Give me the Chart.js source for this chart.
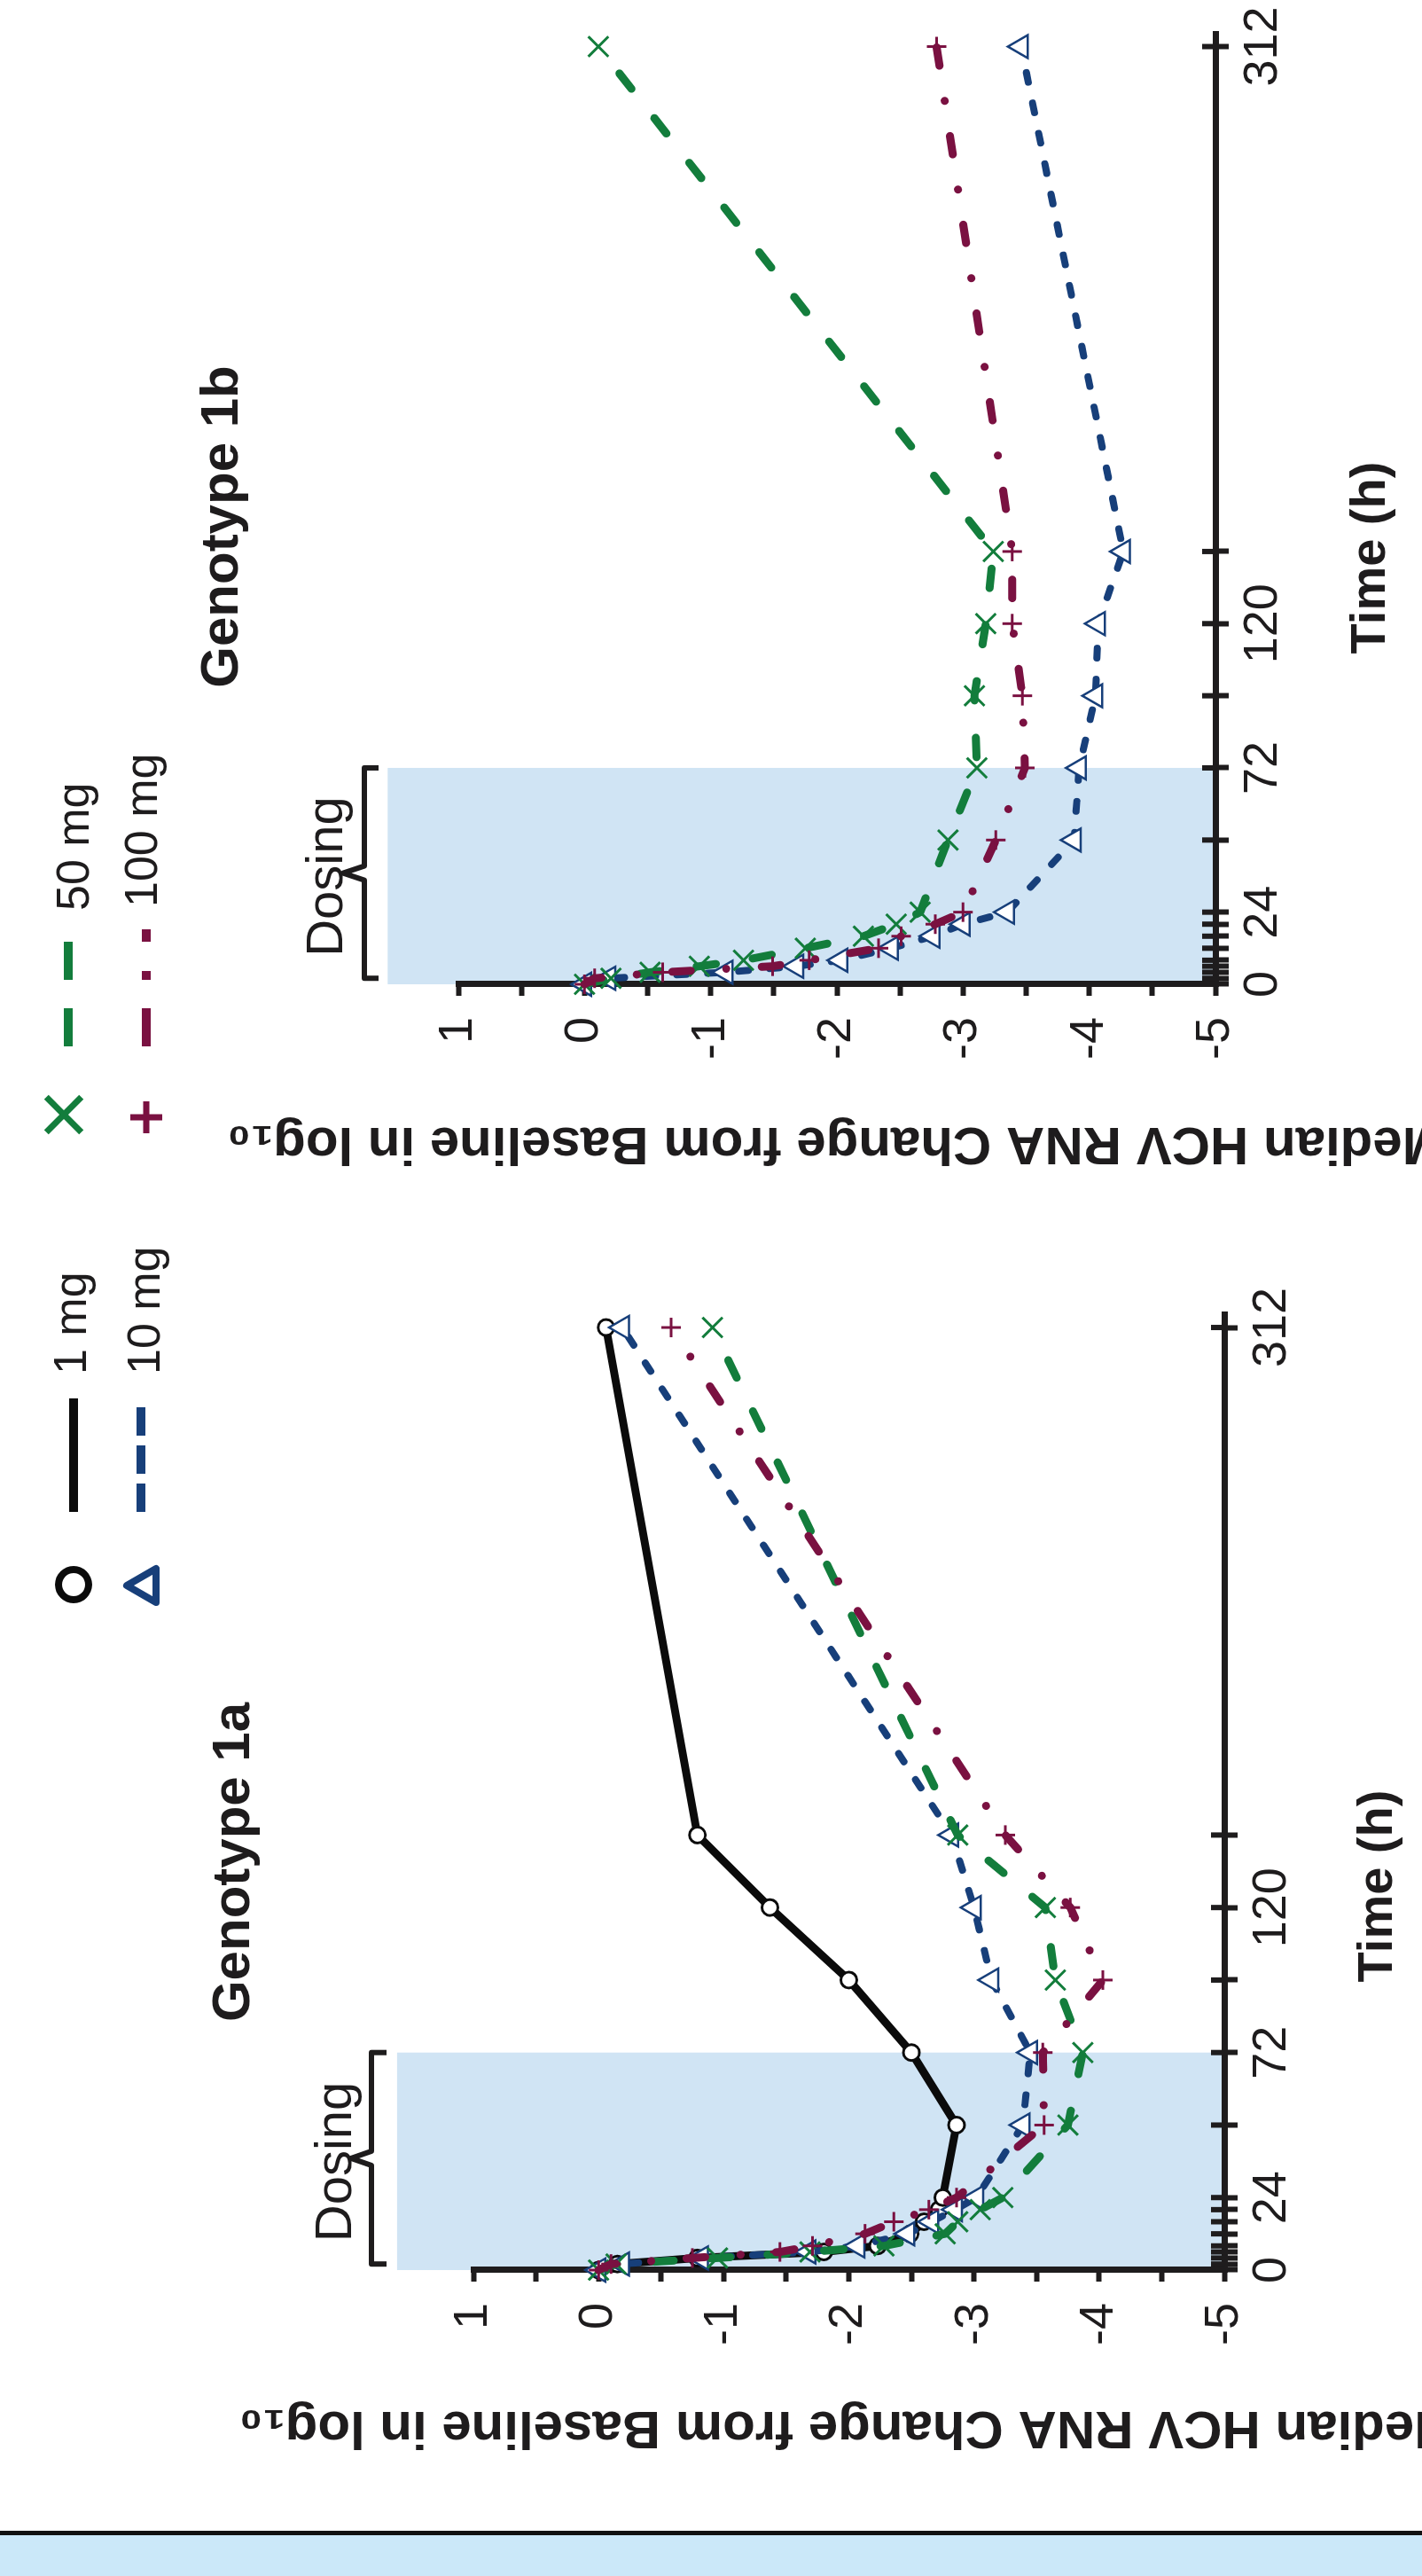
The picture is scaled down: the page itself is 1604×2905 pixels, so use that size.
<!DOCTYPE html>
<html>
<head>
<meta charset="utf-8">
<script src="https://cdn.jsdelivr.net/npm/chart.js@4.4.1/dist/chart.umd.min.js"></script>
<style>
html, body { margin: 0; padding: 0; background: #fff; overflow: hidden; }
body { width: 1604px; height: 2905px; position: relative; }
/* the figure is laid out upright and turned a quarter turn, like the scanned page */
#figure { position: absolute; left: 0; top: 0; width: 2905px; height: 1604px;
          transform-origin: 0 0; transform: translate(0, 2905px) rotate(-90deg); }
#strip { position: absolute; left: 0; top: 0; width: 46px; height: 1604px;
         background: #cbe8f9; border-right: 5px solid #111; }
.panel { position: absolute; top: 0; }
</style>
</head>
<body>
<div id="figure">
  <div id="strip"></div>
  <canvas id="chart1b" class="panel" width="1455" height="1604" style="left:1450px"></canvas>
  <canvas id="chart1a" class="panel" width="1560" height="1604" style="left:0"></canvas>
</div>
<script>
// sampling times (h) and the labelled ones
const hours = [0, 2, 4, 6, 8, 12, 16, 20, 24, 48, 72, 96, 120, 144, 312];
const hourLabels = [0, 24, 72, 120, 312];
const valueTicks = [-5, -4.5, -4, -3.5, -3, -2.5, -2, -1.5, -1, -0.5, 0, 0.5, 1];
const dosingHours = [0, 72];

// Genotype 1a, median change in log10 HCV RNA
const g1a_1mg   = [0, -0.15, -0.79, -1.80, -2.23, -2.49, -2.60, -2.72, -2.75, -2.86, -2.50, -2.00, -1.37, -0.79, -0.06];
const g1a_10mg  = [0, -0.19, -0.82, -1.68, -2.07, -2.47, -2.66, -2.85, -3.02, -3.39, -3.45, -3.14, -3.00, -2.82, -0.19];
const g1a_50mg  = [0, -0.14, -0.95, -1.69, -2.28, -2.77, -2.87, -3.05, -3.23, -3.75, -3.87, -3.65, -3.57, -2.87, -0.91];
const g1a_100mg = [0, -0.10, -0.75, -1.45, -1.71, -2.13, -2.36, -2.64, -2.86, -3.56, -3.55, -4.03, -3.77, -3.25, -0.58];

// Genotype 1b
const g1b_10mg  = [0, -0.19, -1.12, -1.68, -2.03, -2.43, -2.76, -3.00, -3.35, -3.88, -3.92, -4.05, -4.07, -4.27, -3.46];
const g1b_50mg  = [0, -0.21, -0.52, -0.91, -1.26, -1.75, -2.21, -2.47, -2.66, -2.88, -3.11, -3.09, -3.18, -3.24, -0.11];
const g1b_100mg = [0, -0.08, -0.62, -1.49, -1.78, -2.33, -2.51, -2.78, -3.00, -3.26, -3.49, -3.47, -3.39, -3.39, -2.79];

const ink = '#1e1c1d';
const family = '"Liberation Sans", Arial, Helvetica, sans-serif';
const yTitle = 'Median HCV RNA Change from Baseline in log\u2081\u2080';

const styles = {
  '1 mg':   { color: '#0b0b0b', shape: 'circle',   r: 9,  pw: 3,   lw: 9, dash: [],               legendDash: [] },
  '10 mg':  { color: '#173f7a', shape: 'triangle', r: 15, pw: 2.5, lw: 8, dash: [11, 24],         legendDash: [32, 11] },
  '50 mg':  { color: '#137d3c', shape: 'crossRot', r: 16, pw: 3,   lw: 9, dash: [22, 42],         legendDash: [43, 32] },
  '100 mg': { color: '#7a1141', shape: 'cross',    r: 11, pw: 3,   lw: 9, dash: [21, 40, 0.1, 40], legendDash: [43, 32, 10, 33] }
};

function series(label, values) {
  const s = styles[label];
  return {
    label: label,
    data: hours.map((h, i) => ({ x: h, y: values[i] })),
    borderColor: s.color,
    borderWidth: s.lw,
    borderDash: s.dash,
    borderCapStyle: 'round',
    borderJoinStyle: 'round',
    tension: 0,
    fill: false,
    clip: false,
    pointStyle: s.shape,
    pointRadius: s.r,
    pointBorderWidth: s.pw,
    pointBorderColor: s.color,
    pointBackgroundColor: '#ffffff'
  };
}

function drawMarker(ctx, shape, x, y, r, color, lw) {
  ctx.save();
  ctx.strokeStyle = color;
  ctx.fillStyle = '#ffffff';
  ctx.lineWidth = lw;
  ctx.lineJoin = 'round';
  ctx.beginPath();
  if (shape === 'circle') {
    ctx.arc(x, y, r, 0, Math.PI * 2);
    ctx.fill();
  } else if (shape === 'triangle') {
    ctx.moveTo(x, y - r);
    ctx.lineTo(x + r * 0.866, y + r * 0.5);
    ctx.lineTo(x - r * 0.866, y + r * 0.5);
    ctx.closePath();
    ctx.fill();
  } else if (shape === 'cross') {
    ctx.moveTo(x, y - r); ctx.lineTo(x, y + r);
    ctx.moveTo(x - r, y); ctx.lineTo(x + r, y);
  } else {
    const d = r * 0.7071;
    ctx.moveTo(x - d, y - d); ctx.lineTo(x + d, y + d);
    ctx.moveTo(x + d, y - d); ctx.lineTo(x - d, y + d);
  }
  ctx.stroke();
  ctx.restore();
}

function makeDecor(L) {
  return {
    id: 'decor',
    beforeDraw(chart) {
      const { ctx, scales: { x, y } } = chart;
      const x0 = x.getPixelForValue(dosingHours[0]);
      const x1 = x.getPixelForValue(dosingHours[1]);
      const y0 = y.getPixelForValue(L.bandTop);
      const y1 = y.getPixelForValue(-5);
      ctx.save();
      ctx.fillStyle = '#d0e4f4';
      ctx.fillRect(x0, y0, x1 - x0, y1 - y0);
      ctx.restore();
    },
    beforeDatasetsDraw(chart) {
      // time ticks cross the axis line
      const { ctx, scales: { x } } = chart;
      ctx.save();
      ctx.strokeStyle = ink;
      ctx.lineWidth = 6;
      ctx.beginPath();
      x.ticks.forEach((t, i) => {
        const px = x.getPixelForTick(i);
        ctx.moveTo(px, x.top);
        ctx.lineTo(px, x.top - 15);
      });
      ctx.stroke();
      ctx.restore();
    },
    afterDraw(chart) {
      const { ctx, scales: { x } } = chart;
      ctx.save();
      ctx.fillStyle = ink;
      ctx.textBaseline = 'middle';
      ctx.textAlign = 'center';
      ctx.font = 'bold 60px ' + family;
      ctx.fillText(L.title, L.titleX, L.titleY);
      ctx.font = 'bold 56px ' + family;
      ctx.fillText('Time (h)', L.timeX, L.timeY);

      // dosing bracket
      const bx0 = x.getPixelForValue(2);
      const bx1 = x.getPixelForValue(dosingHours[1]);
      const bm = (bx0 + bx1) / 2;
      ctx.strokeStyle = ink;
      ctx.lineWidth = 6;
      ctx.lineJoin = 'round';
      ctx.beginPath();
      ctx.moveTo(bx0, L.tipY);
      ctx.lineTo(bx0, L.braceY);
      ctx.lineTo(bm - 8, L.braceY);
      ctx.lineTo(bm, L.nubY);
      ctx.lineTo(bm + 8, L.braceY);
      ctx.lineTo(bx1, L.braceY);
      ctx.lineTo(bx1, L.tipY);
      ctx.stroke();
      ctx.textBaseline = 'alphabetic';
      ctx.font = '58px ' + family;
      ctx.fillText('Dosing', bm - 4, L.dosingBase);

      // legend entries for this panel
      L.legend.forEach(item => {
        const s = styles[item.label];
        drawMarker(ctx, s.shape, item.mx, item.my, item.mr, s.color, item.mw);
        ctx.save();
        ctx.strokeStyle = s.color;
        ctx.lineWidth = 10;
        ctx.lineCap = 'butt';
        ctx.setLineDash(s.legendDash);
        ctx.beginPath();
        ctx.moveTo(item.l0, item.ly);
        ctx.lineTo(item.l1, item.ly);
        ctx.stroke();
        ctx.restore();
        ctx.textAlign = 'left';
        ctx.font = '52px ' + family;
        ctx.fillText(item.label, item.tx, item.ty);
      });
      ctx.restore();
    }
  };
}

function buildPanel(id, datasets, L) {
  return new Chart(document.getElementById(id), {
    type: 'line',
    data: { datasets: datasets },
    options: {
      responsive: false,
      animation: false,
      events: [],
      layout: { padding: { top: L.top, right: L.right, left: 0, bottom: 0 } },
      plugins: { legend: { display: false }, tooltip: { enabled: false } },
      scales: {
        x: {
          type: 'linear', position: 'bottom', min: 0, max: 317,
          afterBuildTicks: s => { s.ticks = hours.map(v => ({ value: v })); },
          afterFit: s => { s.height = L.xAxisHeight; },
          ticks: {
            autoSkip: false, maxRotation: 0, minRotation: 0, padding: 7, color: ink,
            font: { family: family, size: 54 },
            callback: v => hourLabels.includes(v) ? String(v) : ''
          },
          grid: { drawOnChartArea: false, drawTicks: true, tickLength: 15, tickWidth: 6, color: ink },
          border: { display: true, width: 7, color: ink }
        },
        y: {
          type: 'linear', position: 'left', min: -5, max: 1,
          afterBuildTicks: s => { s.ticks = valueTicks.map(v => ({ value: v })); },
          afterFit: s => { s.width = 345; },
          ticks: {
            autoSkip: false, padding: 24, color: ink,
            font: { family: family, size: 54 },
            callback: v => Number.isInteger(v) ? String(v) : ''
          },
          grid: { drawOnChartArea: false, drawTicks: true, tickLength: 13, tickWidth: 6, color: ink },
          border: { display: true, width: 7, color: ink },
          title: {
            display: true, text: yTitle, color: ink,
            font: { family: family, size: 60, weight: 'bold' },
            padding: { top: L.yTitlePad, bottom: 0 }
          }
        }
      }
    },
    plugins: [makeDecor(L)]
  });
}

buildPanel('chart1a', [
  series('100 mg', g1a_100mg),
  series('50 mg', g1a_50mg),
  series('10 mg', g1a_10mg),
  series('1 mg', g1a_1mg)
], {
  top: 534, right: 135, xAxisHeight: 223, yTitlePad: 132, bandTop: 1.61,
  title: 'Genotype 1a', titleX: 805, titleY: 264,
  timeX: 778, timeY: 1555,
  braceY: 419, tipY: 436, nubY: 396, dosingBase: 396,
  legend: [
    { label: '1 mg',  mx: 1118, my: 83,  mr: 17, mw: 8, l0: 1200, l1: 1328, ly: 83,  tx: 1355, ty: 97 },
    { label: '10 mg', mx: 1117, my: 165, mr: 22, mw: 8, l0: 1200, l1: 1328, ly: 159, tx: 1355, ty: 180 }
  ]
});

buildPanel('chart1b', [
  series('100 mg', g1b_100mg),
  series('50 mg', g1b_50mg),
  series('10 mg', g1b_10mg)
], {
  top: 517, right: 30, xAxisHeight: 233, yTitlePad: 130, bandTop: 1.56,
  title: 'Genotype 1b', titleX: 861, titleY: 251,
  timeX: 826, timeY: 1547,
  braceY: 411, tipY: 427, nubY: 387, dosingBase: 386,
  legend: [
    { label: '50 mg',  mx: 198, my: 72,  mr: 28, mw: 7, l0: 275, l1: 407, ly: 77,  tx: 428, ty: 100 },
    { label: '100 mg', mx: 195, my: 165, mr: 18, mw: 7, l0: 275, l1: 407, ly: 165, tx: 432, ty: 177 }
  ]
});
</script>
</body>
</html>
